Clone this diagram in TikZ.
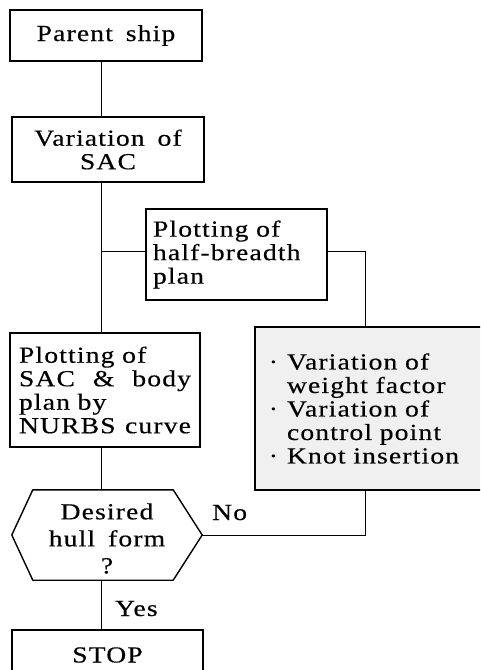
\documentclass[tikz,border=0pt]{standalone}
\usepackage{fontspec}
\setmainfont{Liberation Serif}[FakeStretch=1.2,LetterSpace=5,WordSpace=1.6,FakeBold=0.4]
\newcommand\chartfont{\fontsize{23}{23.5}\selectfont}
\newcommand\decfont{\fontsize{23}{27}\selectfont}
\begin{document}
\begin{tikzpicture}[x=1pt,y=-1pt,
  box/.style={draw,line width=1.4pt,inner sep=0pt,font=\chartfont},
  conn/.style={line width=0.8pt},
  lbl/.style={inner sep=0pt,anchor=base west,font=\chartfont}]
\useasboundingbox (0,0) rectangle (480,670);
\clip (0,0) rectangle (480,670);
\fill[white] (0,0) rectangle (480,670);
\coordinate (spine) at (101,0);
\coordinate (rx) at (365,0);
% boxes
\node[box,minimum width=192pt,minimum height=51pt] (parent) at (106,35.5) {Parent ship};
\node[box,minimum width=192pt,minimum height=65pt,align=center] (var) at (108,149.5) {Variation of\\SAC};
\node[box,minimum width=181pt,minimum height=91pt,text width=167pt,align=left] (half) at (236.5,254.5) {Plotting of\\half-breadth\\plan};
\node[box,minimum width=190pt,minimum height=114pt,text width=172pt,align=left] (sac) at (105,390) {Plotting of\\SAC\hfill\&\hfill body\\plan by\\NURBS\hfill curve};
\node[box,fill=gray!12,minimum width=227pt,minimum height=163pt,text width=163pt,align=left] (gray) at (368.5,408.5)
  {\makebox[0pt][r]{·\hspace{9pt}}Variation of\\weight factor\\\makebox[0pt][r]{·\hspace{9pt}}Variation of\\control point\\\makebox[0pt][r]{·\hspace{9pt}}\mbox{Knot insertion}};
\node[inner sep=0pt,minimum width=190pt,minimum height=90pt,align=center,font=\decfont] (dec) at (107,538.5) {Desired\\hull form\\?};
\coordinate (dW) at ([yshift=3.5pt]dec.west);
\coordinate (dE) at ([yshift=3.5pt]dec.east);
\coordinate (dN) at ([yshift=3.5pt]dec.north);
\coordinate (dS) at ([yshift=3.5pt]dec.south);
\coordinate (dNW) at ([xshift=21pt,yshift=3.5pt]dec.north west);
\coordinate (dNE) at ([xshift=-29pt,yshift=3.5pt]dec.north east);
\coordinate (dSW) at ([xshift=21pt,yshift=3.5pt]dec.south west);
\coordinate (dSE) at ([xshift=-29pt,yshift=3.5pt]dec.south east);
\draw[line width=1.4pt,line join=round] (dW) -- (dNW) -- (dNE) -- (dE) -- (dSE) -- (dSW) -- cycle;
\node[box,minimum width=191pt,minimum height=50pt] (stop) at (107.5,655) {STOP};
% labels
\node[lbl] (no) at (212,520) {No};
\node[lbl] (yes) at (115,616) {Yes};
% connectors
\draw[conn] (parent.south -| spine) -- (var.north -| spine);
\draw[conn] (var.south -| spine) -- (sac.north -| spine);
\draw[conn] ([yshift=3.5pt]half.west) -- ([yshift=3.5pt]half.west -| spine);
\draw[conn] ([yshift=3.5pt]half.east) -| (gray.north -| rx);
\draw[conn] (sac.south -| spine) -- (dN -| spine);
\draw[conn] (dE) -| (gray.south -| rx);
\draw[conn] (dS -| spine) -- (stop.north -| spine);
\end{tikzpicture}
\end{document}
